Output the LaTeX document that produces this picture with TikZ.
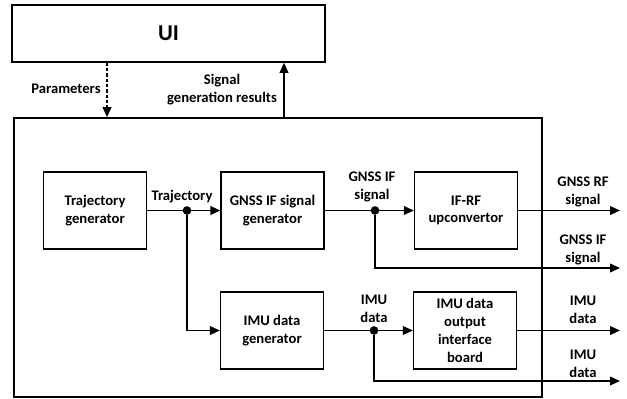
\documentclass[tikz,border=0pt]{standalone}
\usepackage{fontspec}
\setmainfont{Carlito}
\usepackage{tikz}
\usetikzlibrary{arrows.meta,positioning}

\begin{document}
\begin{tikzpicture}[
  x=0.75pt, y=-0.75pt,
  block/.style={draw, line width=1.2pt, minimum width=77pt, minimum height=58pt,
                font=\bfseries\fontsize{11}{13.3}\selectfont, align=center},
  lbl/.style={font=\bfseries\fontsize{11}{13.6}\selectfont, align=center, inner sep=0pt},
  dot/.style={circle, fill, inner sep=0pt, minimum size=6.5pt},
  arr/.style={-{Triangle[length=7.5pt, width=6.5pt]}, line width=1.2pt}
]
  \useasboundingbox (0,0) rectangle (627,399);
  \node[draw, line width=1.2pt, minimum width=234.75pt, minimum height=42.75pt,
        font=\bfseries\fontsize{17}{20}\selectfont] (ui) at (168.5,33.5) {UI};
  \node[draw, line width=1.2pt, minimum width=396pt, minimum height=209.25pt] (sys) at (278,257.5) {};
  \node[block] (traj) at (95,210.5) {Trajectory\\ generator};
  \node[block] (gnss) at (272.5,210.5) {GNSS IF signal\\ generator};
  \node[block] (ifrf) at (466,210.5) {IF-RF\\ upconvertor};
  \node[block] (imugen) at (272,330.5) {IMU data\\ generator};
  \node[block] (imuout) at (465,330.5) {IMU data\\ output\\ interface\\ board};
  \node[dot] (j1) at (187,210.5) {};
  \node[dot] (j2) at (375,210.5) {};
  \node[dot] (j3) at (374,330.5) {};
  \coordinate (par) at (107,0);
  \coordinate (res) at (284,0);
  \coordinate (o1) at (620,210.5);
  \coordinate (o2) at (620,268);
  \coordinate (o3) at (620,330.5);
  \coordinate (o4) at (620,381);
  \draw[arr, dash pattern=on 2.5pt off 1.5pt] (ui.south -| par) -- (sys.north -| par);
  \draw[arr] (sys.north -| res) -- (ui.south -| res);
  \draw[arr] (traj) -- (gnss);
  \draw[arr] (j1) |- (imugen);
  \draw[arr] (gnss) -- (ifrf);
  \draw[arr] (ifrf) -- (o1);
  \draw[arr] (j2) |- (o2);
  \draw[arr] (imugen) -- (imuout);
  \draw[arr] (imuout) -- (o3);
  \draw[arr] (j3) |- (o4);
  \node[lbl] (lpar) at (66,89) {Parameters};
  \node[lbl] (lres) at (222,90) {Signal\\ generation results};
  \node[lbl] (ltraj) at (182,197) {Trajectory};
  \node[lbl] (lj2) at (372,187) {GNSS IF\\ signal};
  \node[lbl] (lo1) at (583,192) {GNSS RF\\ signal};
  \node[lbl] (lo2) at (583,250) {GNSS IF\\ signal};
  \node[lbl] (lj3) at (374,309) {IMU\\ data};
  \node[lbl] (lo3) at (583,310) {IMU\\ data};
  \node[lbl] (lo4) at (583,364) {IMU\\ data};
\end{tikzpicture}
\end{document}
